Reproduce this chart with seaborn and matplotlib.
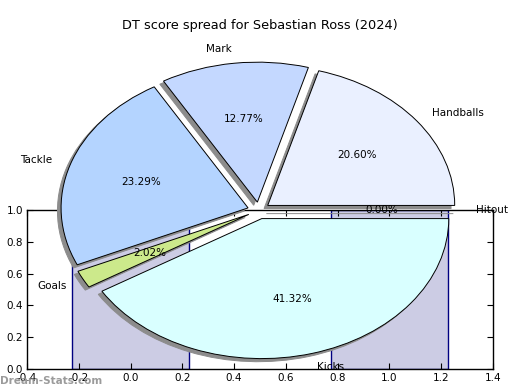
import matplotlib
matplotlib.use("Agg")
import matplotlib.pyplot as plt
import seaborn as sns
import pandas as pd

# pie data
title = "DT score spread for Sebastian Ross (2024)"
stats = ["Handballs", "Mark", "Tackle", "Goals", "Kicks", "Hitout"]
spread = [20.60, 12.77, 23.29, 2.02, 41.32, 0.00]
wedge_colors = ["#eaf0ff", "#c4d8ff", "#b4d4ff", "#cce98b", "#d9ffff", "#ffffcc"]
explode = [0.06, 0.06, 0.06, 0.06, 0.06, 0.06]

# the bar axes left behind the pie
bar_x = [0, 1]
bar_h = [1.0, 1.0]
x_ticks = [-0.4, -0.2, 0.0, 0.2, 0.4, 0.6, 0.8, 1.0, 1.2, 1.4]
y_ticks = [0.0, 0.2, 0.4, 0.6, 0.8, 1.0]

plt.rcParams["axes.unicode_minus"] = False
plt.rcParams["font.family"] = ["DejaVu Sans"]

fig = plt.figure(figsize=(5.2, 3.9), dpi=100)

# bars
ax = fig.add_axes([27 / 520, 21 / 390, 466 / 520, 159 / 390])
bars = pd.DataFrame({"x": bar_x, "h": bar_h})
sns.barplot(data=bars, x="x", y="h", native_scale=True, width=0.45,
            color="#ccccE4", edgecolor="#000080", linewidth=1,
            saturation=1, errorbar=None, ax=ax)
ax.set_xlim(-0.4, 1.4)
ax.set_ylim(0, 1.0)
ax.set_xticks(x_ticks)
ax.set_yticks(y_ticks)
ax.set_xlabel("")
ax.set_ylabel("")
ax.tick_params(direction="in", top=True, right=True, length=4,
               labelsize=7.5, pad=3)
for s in ax.spines.values():
    s.set_linewidth(1)

# pie on top
ax2 = fig.add_axes([25 / 520, 4.5 / 390, 467.5 / 520, 350 / 390])
ax2.pie(spread, labels=stats, colors=wedge_colors, explode=explode,
        autopct="%1.2f%%", startangle=0,
        shadow={"ox": -0.014, "oy": -0.016, "facecolor": "0.55",
                "edgecolor": "0.55", "alpha": 1},
        wedgeprops={"edgecolor": "black", "linewidth": 0.7},
        textprops={"fontsize": 7.5})
ax2.set_aspect("auto")
ax2.set_xlim(-1.25, 1.25)
ax2.set_ylim(-1.25, 1.25)
ax2.axis("off")
ax2.patch.set_alpha(0)

fig.text(0.5, 1 - 25 / 390, title, ha="center", va="center", fontsize=9.3)
# watermark sits over the tick labels, as in the original
fig.text(0.0, 1 - 381 / 390, "Dream-Stats.com", ha="left", va="center",
         fontsize=7.5, fontweight="bold", color="#8a8a8a", alpha=0.85)

fig.savefig("out.png", dpi=100)
